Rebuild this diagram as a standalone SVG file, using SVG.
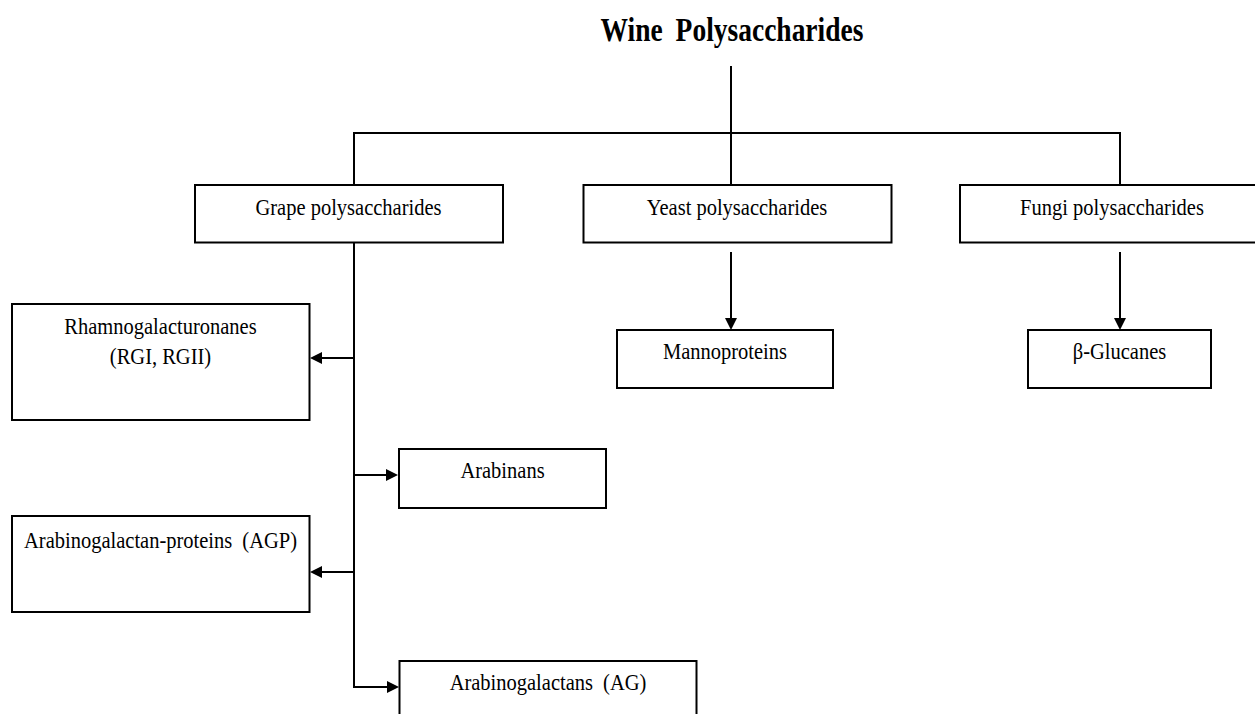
<svg xmlns="http://www.w3.org/2000/svg" width="1255" height="714" viewBox="0 0 1255 714">
<style>
  .box{fill:#fff;stroke:#000;stroke-width:2}
  .t{font-family:"Liberation Serif","Times New Roman",serif;font-size:20.5px;fill:#000;text-anchor:middle}
  .title{font-family:"Liberation Serif","Times New Roman",serif;font-size:27.5px;font-weight:bold;fill:#000;text-anchor:middle;word-spacing:6px}
  .c{fill:none;stroke:#000;stroke-width:2}
</style>
<defs>
  <marker id="ah" markerUnits="userSpaceOnUse" markerWidth="12" markerHeight="12" viewBox="0 0 12 12" refX="6" refY="6" orient="auto">
    <path d="M0,0 L12,6 L0,12 z" fill="#000"/>
  </marker>
</defs>
<rect width="1255" height="714" fill="#fff"/>

<g id="connectors">
  <line class="c" x1="731" y1="66" x2="731" y2="133"/>
  <line class="c" x1="353" y1="133" x2="1121" y2="133"/>
  <line class="c" x1="354" y1="133" x2="354" y2="185"/>
  <line class="c" x1="731" y1="133" x2="731" y2="185"/>
  <line class="c" x1="1120" y1="133" x2="1120" y2="185"/>
  <line class="c" x1="354" y1="243" x2="354" y2="688"/>
  <line class="c" x1="354" y1="358" x2="316" y2="358" marker-end="url(#ah)"/>
  <line class="c" x1="354" y1="475" x2="392" y2="475" marker-end="url(#ah)"/>
  <line class="c" x1="354" y1="572" x2="316" y2="572" marker-end="url(#ah)"/>
  <line class="c" x1="353" y1="687" x2="393" y2="687" marker-end="url(#ah)"/>
  <line class="c" x1="731" y1="252" x2="731" y2="324" marker-end="url(#ah)"/>
  <line class="c" x1="1120" y1="252" x2="1120" y2="324" marker-end="url(#ah)"/>
</g>

<g id="title">
  <text class="title" transform="translate(732,40.5) scale(1,1.2)">Wine Polysaccharides</text>
</g>

<g id="grape">
  <rect class="box" x="195" y="185" width="308" height="57.5"/>
  <text class="t" transform="translate(348.5,215) scale(1,1.16)">Grape polysaccharides</text>
</g>
<g id="yeast">
  <rect class="box" x="583.5" y="185" width="308" height="57.5"/>
  <text class="t" transform="translate(737,215) scale(1,1.16)">Yeast polysaccharides</text>
</g>
<g id="fungi">
  <rect class="box" x="960" y="185" width="310" height="57.5"/>
  <text class="t" transform="translate(1112,215) scale(1,1.16)">Fungi polysaccharides</text>
</g>
<g id="mannoproteins">
  <rect class="box" x="617" y="330" width="216" height="58"/>
  <text class="t" transform="translate(725,359) scale(1,1.16)">Mannoproteins</text>
</g>
<g id="glucanes">
  <rect class="box" x="1028" y="330" width="183" height="58"/>
  <text class="t" transform="translate(1119.5,359) scale(1,1.16)">β-Glucanes</text>
</g>
<g id="rhamno">
  <rect class="box" x="12" y="304" width="297.5" height="116"/>
  <text class="t" transform="translate(160.5,334) scale(1,1.16)">Rhamnogalacturonanes</text>
  <text class="t" transform="translate(160.5,364) scale(1,1.16)">(RGI, RGII)</text>
</g>
<g id="arabinans">
  <rect class="box" x="399" y="449" width="207" height="59"/>
  <text class="t" transform="translate(502.5,478) scale(1,1.16)">Arabinans</text>
</g>
<g id="agp">
  <rect class="box" x="12" y="516" width="297.5" height="96"/>
  <text class="t" transform="translate(160.5,548) scale(1,1.16)" style="word-spacing:5px">Arabinogalactan-proteins (AGP)</text>
</g>
<g id="ag">
  <rect class="box" x="399.5" y="661" width="297" height="70"/>
  <text class="t" transform="translate(548,690) scale(1,1.16)" style="word-spacing:5px">Arabinogalactans (AG)</text>
</g>
</svg>
